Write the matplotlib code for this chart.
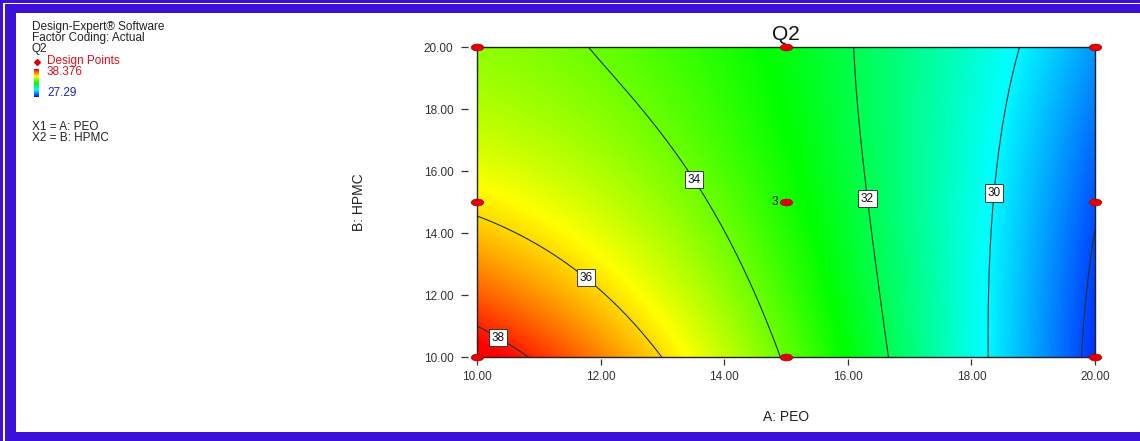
import numpy as np
import matplotlib
matplotlib.use('Agg')
import matplotlib.pyplot as plt
from matplotlib.colors import LinearSegmentedColormap
from matplotlib.patches import Rectangle
from matplotlib.path import Path
from matplotlib.transforms import Affine2D
from matplotlib.ticker import FormatStrFormatter

plt.rcParams['font.family'] = ['Liberation Sans', 'DejaVu Sans']

# Design points: A = PEO, B = HPMC, response Q2
peo = [10, 10, 10, 15, 15, 15, 20, 20, 20]
hpmc = [10, 15, 20, 10, 15, 20, 10, 15, 20]
q2 = [38.7, 35.8, 34.4, 33.9, 33.1, 32.65, 27.7, 28.1, 28.9]
center_runs = 3
q2_low, q2_high = 27.29, 38.376

label_levels = [30, 32, 34, 36, 38]
plain_levels = [28]
label_spots = [(18.3, 15.3), (16.3, 15.1), (13.3, 15.45), (11.9, 12.9), (10.35, 10.65)]
ticks = [10, 12, 14, 16, 18, 20]

W, H = 1140, 441
BORDER = '#3b10d8'


def fx(px):
    return px / W


def fy(py):
    return 1 - py / H


def terms(a, b):
    # full 3-level factorial surface: 1, A, B, AB, A^2, B^2, A^2B, AB^2, A^2B^2
    return [np.ones_like(a), a, b, a * b, a ** 2, b ** 2,
            a ** 2 * b, a * b ** 2, a ** 2 * b ** 2]


# centre/scale factors to keep the system well conditioned
A = (np.array(peo, float) - 15) / 5
B = (np.array(hpmc, float) - 15) / 5
coef = np.linalg.solve(np.column_stack(terms(A, B)), np.array(q2))

ga, gb = np.meshgrid(np.linspace(10, 20, 400), np.linspace(10, 20, 400))
Z = sum(c * t for c, t in zip(coef, terms((ga - 15) / 5, (gb - 15) / 5)))

cmap = LinearSegmentedColormap.from_list(
    'de', ['#0010ff', '#00ffff', '#00ff00', '#ffff00', '#ff0000'])

fig = plt.figure(figsize=(W / 100, H / 100), dpi=100)
ax = fig.add_axes([fx(477), fy(357), fx(1095) - fx(477), fy(47) - fy(357)])

ax.imshow(Z, origin='lower', extent=[10, 20, 10, 20], aspect='auto',
          cmap=cmap, vmin=q2_low, vmax=q2_high, interpolation='bilinear')
line_kw = dict(colors='#1c3434', linewidths=0.8)
ax.contour(ga, gb, Z, levels=plain_levels, **line_kw)
cs = ax.contour(ga, gb, Z, levels=label_levels, **line_kw)
lbls = ax.clabel(cs, manual=label_spots, fmt='%d', fontsize=8.5, inline=False)
for t in lbls:
    t.set_rotation(0)
    t.set_color('#111111')
    t.set_bbox(dict(boxstyle='square,pad=0.22', fc='white', ec='#222222', lw=0.6))

# flattened ellipse marker for the design points
ellipse = Path.unit_circle().transformed(Affine2D().scale(1, 0.55))
ax.plot(peo, hpmc, ls='none', marker=ellipse, ms=9, mfc='#e30000',
        mec='#b00000', mew=0.5, clip_on=False, zorder=6)
ax.annotate(str(center_runs), (15, 15), xytext=(-6, 0), textcoords='offset points',
            ha='right', va='center', fontsize=8.5, color='#222222')

ax.set_xlim(10, 20)
ax.set_ylim(10, 20)
ax.set_xticks(ticks)
ax.set_yticks(ticks)
ax.xaxis.set_major_formatter(FormatStrFormatter('%.2f'))
ax.yaxis.set_major_formatter(FormatStrFormatter('%.2f'))
for s in ax.spines.values():
    s.set_visible(False)
ax.spines['left'].set_position(('outward', 6.5))
ax.spines['bottom'].set_position(('outward', 1.5))
ax.tick_params(axis='y', direction='out', length=5, width=0.9, color='#333333',
               labelsize=8.5, labelcolor='#333333', pad=5.5)
ax.tick_params(axis='x', direction='out', length=4.5, width=0.9, color='#333333',
               labelsize=8.5, labelcolor='#333333', pad=4)
ax.add_patch(Rectangle((0, 0), 1, 1, transform=ax.transAxes, fill=False,
                       ec='#222222', lw=1.0, zorder=5, clip_on=False))

ax.text(0.5, 1 + 12 / 310, 'Q2', transform=ax.transAxes, ha='center',
        va='center', fontsize=15, color='#111111')
ax.set_xlabel('A: PEO', fontsize=10, color='#222222')
ax.set_ylabel('B: HPMC', fontsize=10, color='#222222')
ax.xaxis.set_label_coords(0.5, (357 - 410) / 310)
ax.yaxis.set_label_coords((366 - 477) / 618, 0.5)

# info block on the left
info = dict(fontsize=8.5, color='#222222', va='top', ha='left')
fig.text(fx(32), fy(21), 'Design-Expert® Software', **info)
fig.text(fx(32), fy(32), 'Factor Coding: Actual', **info)
fig.text(fx(32), fy(43), 'Q2', **info)
fig.text(fx(47), fy(55), 'Design Points', fontsize=8.5, color='#e0101c', va='top')
fig.text(fx(47), fy(66), f'{q2_high}', fontsize=8.5, color='#e0101c', va='top')
fig.text(fx(47), fy(87), f'{q2_low}', fontsize=8.5, color='#2020d0', va='top')
fig.lines.append(plt.Line2D([fx(37)], [fy(62)], marker='D', ms=3, color='#e00000',
                            transform=fig.transFigure))
fig.text(fx(32), fy(121), 'X1 = A: PEO', **info)
fig.text(fx(32), fy(132), 'X2 = B: HPMC', **info)

cax = fig.add_axes([fx(34), fy(97), fx(5), fy(69) - fy(97)])
cax.imshow(np.linspace(0, 1, 64)[:, None], origin='lower', aspect='auto', cmap=cmap)
cax.set_axis_off()

# blue frame around the page
for (x0, y0, x1, y1, c) in [
        (0, 0, 16, H, BORDER), (0, 0, W, 13, BORDER), (0, 432, W, H, BORDER),
        (3, 3, 5, H, 'white'), (3, 3, W, 4, 'white')]:
    fig.add_artist(Rectangle((fx(x0), fy(y1)), fx(x1 - x0), fy(y0) - fy(y1),
                             transform=fig.transFigure, fc=c, ec='none', zorder=10))

fig.savefig('out.png', dpi=100)
